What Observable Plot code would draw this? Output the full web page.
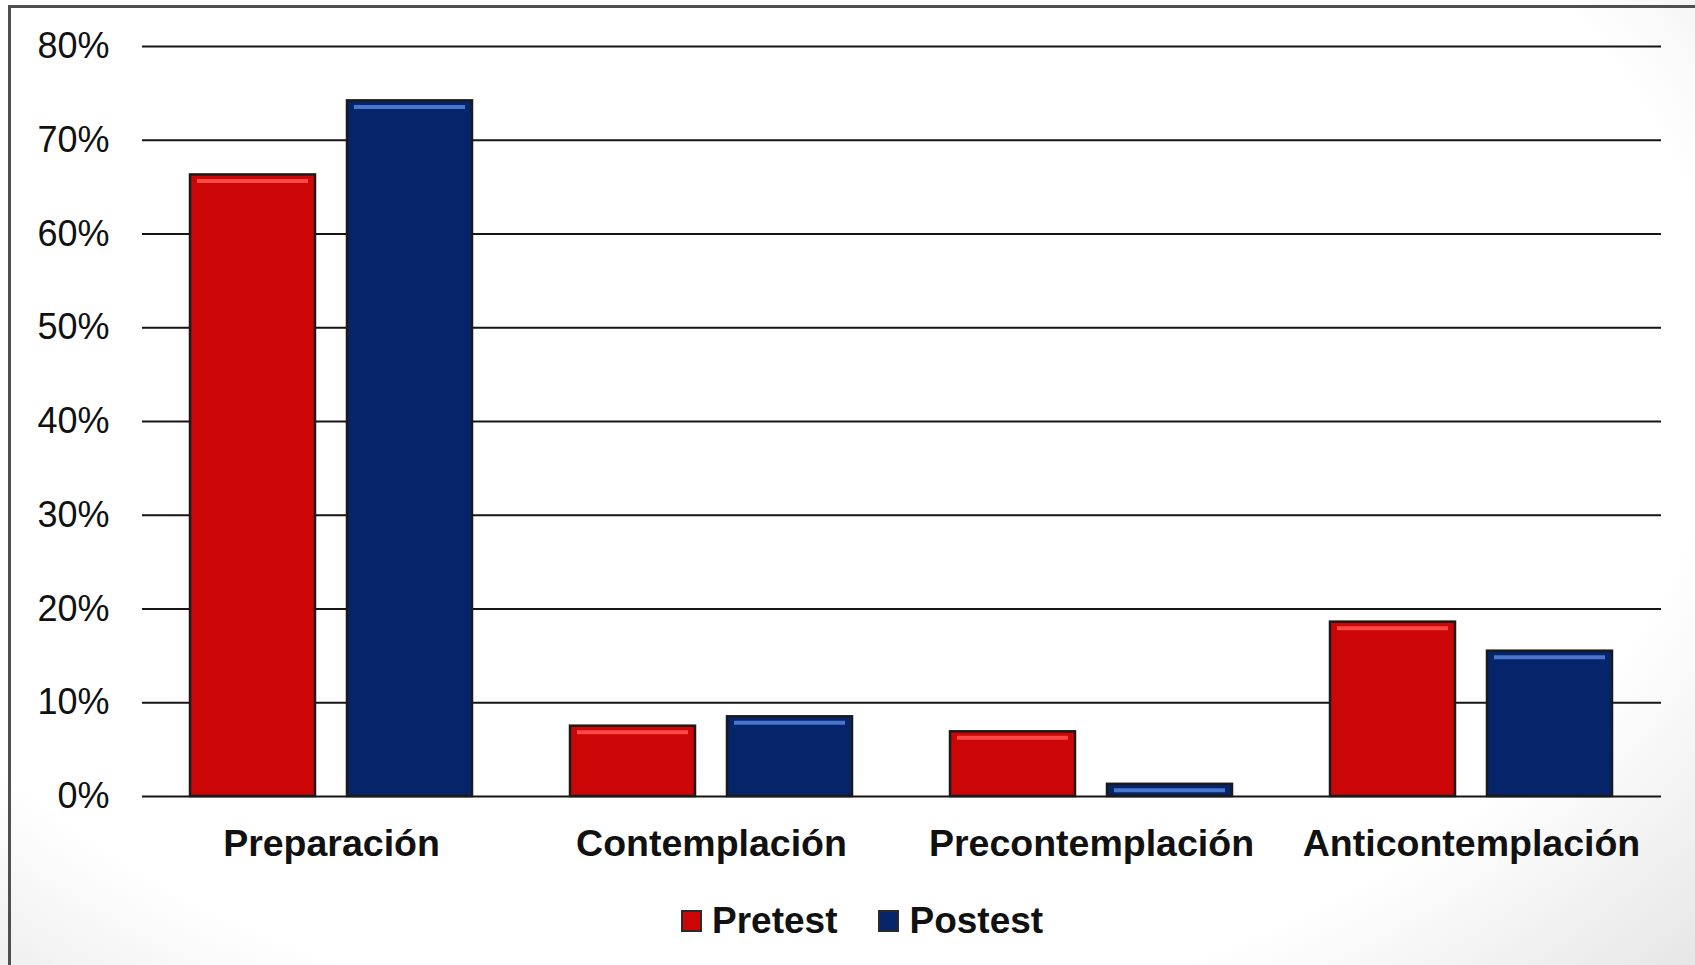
<!DOCTYPE html>
<html>
<head>
<meta charset="utf-8">
<script src="https://cdn.jsdelivr.net/npm/d3@7"></script>
<script src="https://cdn.jsdelivr.net/npm/@observablehq/plot@0.6"></script>
<style>
  html, body { margin: 0; padding: 0; background: #ffffff; }
  #page {
    position: relative; width: 1695px; height: 965px; overflow: hidden;
    background: radial-gradient(ellipse 78% 95% at 45% 38%, #ffffff 72%, #e2e2e2 100%);
    font-family: "Liberation Sans", Arial, sans-serif;
  }
  #frame {
    position: absolute; left: 8px; top: 5px; right: 0; bottom: 0;
    border-top: 3px solid #4f4f4f; border-left: 3px solid #4f4f4f;
  }
  #chart { position: absolute; left: 0; top: 0; }
  #legend { position: absolute; left: 682px; top: 900px; }
  [aria-label="x-axis tick label"] text { font-weight: bold; }
  #legend .lg-swatch > svg { margin-right: 11px !important; }
  #legend .lg-swatch { margin-right: 42px !important; }
  .lg-swatch svg rect { stroke: #2a2a2a; stroke-width: 2; }
</style>
</head>
<body>
<div id="page">
  <div id="frame"></div>
  <div id="chart"></div>
  <div id="legend"></div>
</div>
<script>
// ---- data ----
const categories = ["Preparación", "Contemplación", "Precontemplación", "Anticontemplación"];
const series = ["Pretest", "Postest"];
const pretest = [0.663, 0.075, 0.069, 0.186];
const postest = [0.742, 0.085, 0.013, 0.155];
const yTicks = [0, 0.1, 0.2, 0.3, 0.4, 0.5, 0.6, 0.7, 0.8];
const yTickLabels = ["0%", "10%", "20%", "30%", "40%", "50%", "60%", "70%", "80%"];
const seriesColors = ["#cc0606", "#06246a"];
const highlightColors = ["#ff4848", "#4a76cf"];

const rows = categories.flatMap((c, i) => [
  {category: c, series: series[0], value: pretest[i]},
  {category: c, series: series[1], value: postest[i]}
]);
const preRows = rows.filter(d => d.series === series[0]);
const postRows = rows.filter(d => d.series === series[1]);

// style: each category band holds two bars side by side
const halfInset = 157;

const chart = Plot.plot({
  width: 1695,
  height: 880,
  marginLeft: 142,
  marginRight: 34,
  marginTop: 46,
  marginBottom: 84,
  style: {background: "transparent", fontFamily: "'Liberation Sans', Arial, sans-serif", color: "#111"},
  x: {domain: categories, paddingInner: 0.2575, paddingOuter: 0.126, label: null},
  y: {domain: [0, 0.8], label: null},
  color: {domain: series, range: seriesColors},
  marks: [
    Plot.ruleY(yTicks, {stroke: "#151515", strokeWidth: 2}),
    Plot.axisY(yTicks, {tickSize: 0, tickPadding: 33, fontSize: 36, tickFormat: (d, i) => yTickLabels[i], label: null}),
    Plot.axisX({tickSize: 0, tickPadding: 33, fontSize: 37.5, fontWeight: "bold", label: null}),
    Plot.barY(preRows, {x: "category", y: "value", fill: "series", stroke: "#1a1a1a", strokeWidth: 2.5, insetRight: halfInset}),
    Plot.barY(postRows, {x: "category", y: "value", fill: "series", stroke: "#1a1a1a", strokeWidth: 2.5, insetLeft: halfInset}),
    Plot.tickY(preRows, {x: "category", y: "value", stroke: highlightColors[0], strokeWidth: 4, dy: 6, insetLeft: 7, insetRight: halfInset + 7}),
    Plot.tickY(postRows, {x: "category", y: "value", stroke: highlightColors[1], strokeWidth: 4, dy: 6, insetLeft: halfInset + 7, insetRight: 7})
  ]
});
document.getElementById("chart").appendChild(chart);

const legend = Plot.legend({
  color: {domain: series, range: seriesColors},
  swatchWidth: 19,
  swatchHeight: 20,
  className: "lg",
  style: {fontSize: "37px", fontWeight: "bold", fontFamily: "'Liberation Sans', Arial, sans-serif", color: "#111", background: "transparent"}
});
document.getElementById("legend").appendChild(legend);
</script>
</body>
</html>
